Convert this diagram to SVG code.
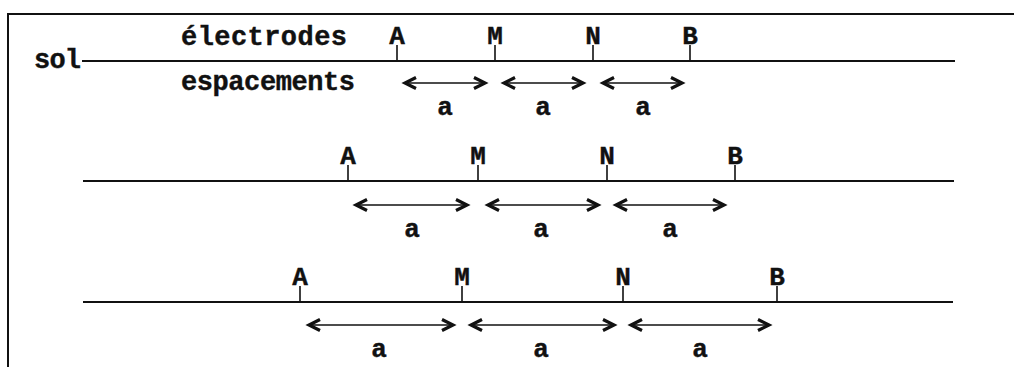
<svg xmlns="http://www.w3.org/2000/svg" width="1014" height="367" viewBox="0 0 1014 367">
<style>
.t{font-family:"Liberation Mono","Courier New",monospace;font-weight:bold;font-size:27px;fill:#111;stroke:#111;stroke-width:0.4}
.e{text-anchor:middle;font-size:26px}
.g{stroke:#111;stroke-width:2;fill:none}
.k{stroke:#111;stroke-width:1.6;fill:none}
.s{stroke:#111;stroke-width:1.3;fill:none}
.h{stroke:#111;stroke-width:3.2;fill:none;stroke-linejoin:miter}
</style>
<defs>
<g id="arrL"><polyline class="h" points="11,-5.5 0,0 11,5.5"/></g>
<g id="arrR"><polyline class="h" points="-11,-5.5 0,0 -11,5.5"/></g>
</defs>
<g id="frame">
<line class="g" x1="8" y1="14" x2="1014" y2="14"/>
<line class="g" x1="8" y1="13" x2="8" y2="367"/>
</g>
<g id="labels">
<text class="t" x="34" y="68" textLength="47">sol</text>
<text class="t" x="181" y="45" textLength="166">électrodes</text>
<text class="t" x="181" y="90" textLength="174">espacements</text>
</g>
<g id="row1">
<line class="g" x1="82" y1="61" x2="955" y2="61"/>
<text class="t e" x="397" y="44">A</text>
<text class="t e" x="495" y="44">M</text>
<text class="t e" x="593" y="44">N</text>
<text class="t e" x="690" y="44">B</text>
<g class="k"><line x1="397" y1="45" x2="397" y2="61"/><line x1="495" y1="45" x2="495" y2="61"/><line x1="593" y1="45" x2="593" y2="61"/><line x1="690" y1="45" x2="690" y2="61"/></g>
<text class="t e" x="445" y="115">a</text>
<text class="t e" x="543" y="115">a</text>
<text class="t e" x="643" y="115">a</text>
</g>
<g id="row2">
<line class="g" x1="83" y1="181" x2="954" y2="181"/>
<text class="t e" x="348" y="164">A</text>
<text class="t e" x="478" y="164">M</text>
<text class="t e" x="607" y="164">N</text>
<text class="t e" x="735" y="164">B</text>
<g class="k"><line x1="348" y1="165" x2="348" y2="181"/><line x1="478" y1="165" x2="478" y2="181"/><line x1="607" y1="165" x2="607" y2="181"/><line x1="735" y1="165" x2="735" y2="181"/></g>
<text class="t e" x="412" y="237">a</text>
<text class="t e" x="541" y="237">a</text>
<text class="t e" x="670" y="237">a</text>
</g>
<g id="row3">
<line class="g" x1="83" y1="302" x2="953" y2="302"/>
<text class="t e" x="300" y="285">A</text>
<text class="t e" x="462" y="285">M</text>
<text class="t e" x="623" y="285">N</text>
<text class="t e" x="777" y="285">B</text>
<g class="k"><line x1="300" y1="286" x2="300" y2="302"/><line x1="462" y1="286" x2="462" y2="302"/><line x1="623" y1="286" x2="623" y2="302"/><line x1="777" y1="286" x2="777" y2="302"/></g>
<text class="t e" x="379" y="357">a</text>
<text class="t e" x="541" y="357">a</text>
<text class="t e" x="700" y="357">a</text>
</g>
<g id="connectors">
<g class="s">
<line x1="405" y1="83" x2="484" y2="83"/><line x1="504" y1="83" x2="582" y2="83"/><line x1="603" y1="83" x2="681" y2="83"/>
<line x1="356" y1="205" x2="466" y2="205"/><line x1="488" y1="205" x2="597" y2="205"/><line x1="616" y1="205" x2="723" y2="205"/>
<line x1="309" y1="325" x2="452" y2="325"/><line x1="471" y1="325" x2="613" y2="325"/><line x1="631" y1="325" x2="768" y2="325"/>
</g>
<use href="#arrL" x="405" y="83"/><use href="#arrR" x="485" y="83"/>
<use href="#arrL" x="504" y="83"/><use href="#arrR" x="583" y="83"/>
<use href="#arrL" x="603" y="83"/><use href="#arrR" x="682" y="83"/>
<use href="#arrL" x="356" y="205"/><use href="#arrR" x="467" y="205"/>
<use href="#arrL" x="488" y="205"/><use href="#arrR" x="598" y="205"/>
<use href="#arrL" x="616" y="205"/><use href="#arrR" x="724" y="205"/>
<use href="#arrL" x="309" y="325"/><use href="#arrR" x="453" y="325"/>
<use href="#arrL" x="471" y="325"/><use href="#arrR" x="614" y="325"/>
<use href="#arrL" x="631" y="325"/><use href="#arrR" x="769" y="325"/>
</g>
</svg>
